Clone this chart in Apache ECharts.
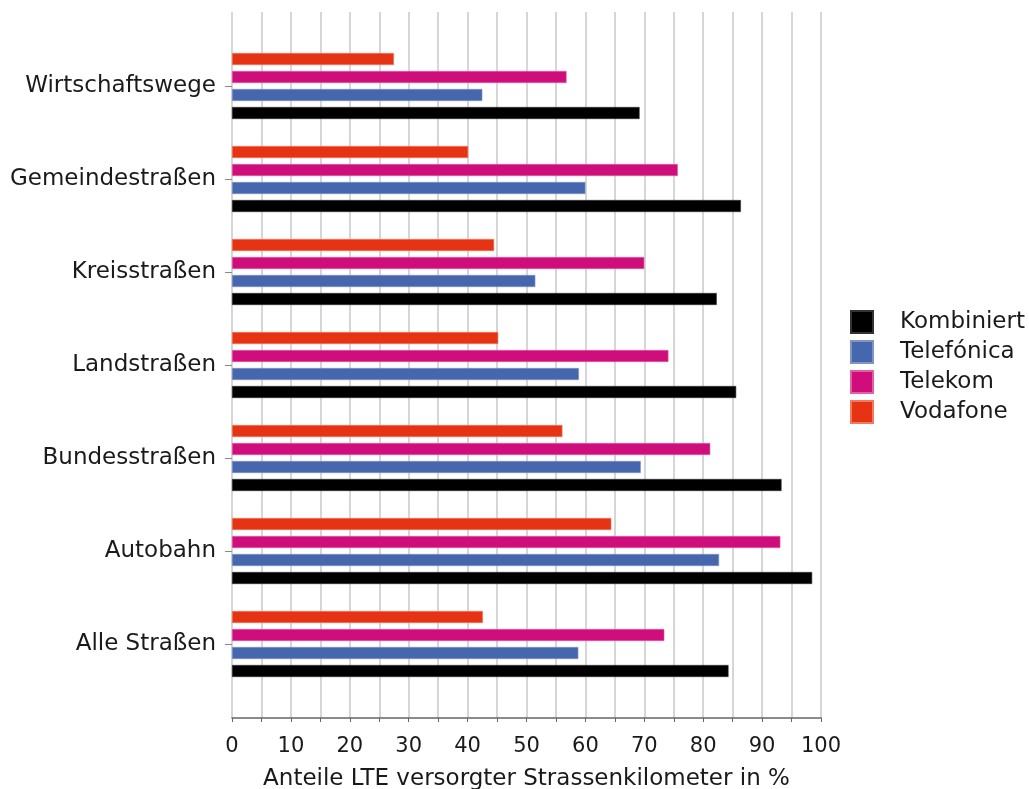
<!DOCTYPE html>
<html>
<head>
<meta charset="utf-8">
<script src="https://cdn.jsdelivr.net/npm/echarts@6/dist/echarts.min.js"></script>
<style>
html,body{margin:0;padding:0;background:#fff;}
#chart{width:1029px;height:789px;}
</style>
</head>
<body>
<div id="chart"></div>
<script>
// Categories, top to bottom
const categories = ['Wirtschaftswege','Gemeindestraßen','Kreisstraßen','Landstraßen','Bundesstraßen','Autobahn','Alle Straßen'];
const kombiniert = [69.2, 86.4, 82.3, 85.6, 93.3, 98.5, 84.3];
const telefonica = [42.5, 60.0, 51.5, 58.9, 69.4, 82.7, 58.8];
const telekom    = [56.8, 75.7, 70.0, 74.1, 81.2, 93.1, 73.4];
const vodafone   = [27.5, 40.1, 44.5, 45.2, 56.1, 64.4, 42.6];
const legendNames = ['Kombiniert','Telefónica','Telekom','Vodafone'];
const axisTitle = 'Anteile LTE versorgter Strassenkilometer in %';

const FONT = 'DejaVu Sans';
const TXT = '#1a1a1a';
const colors = {Kombiniert:'#000000', 'Telefónica':'#4667ad', Telekom:'#cf0e7b', Vodafone:'#e63313'};
const borders = {Kombiniert:'#333333', 'Telefónica':'#7e93c6', Telekom:'#e060a4', Vodafone:'#f07a60'};

function mk(name, data){
  return {
    name, type:'bar', data, xAxisIndex:1, yAxisIndex:1,
    barWidth:12, barGap:'50%',
    itemStyle:{color:colors[name], borderColor:borders[name], borderWidth:0.6},
    emphasis:{disabled:true}
  };
}

const chart = echarts.init(document.getElementById('chart'), null, {renderer:'canvas'});
chart.setOption({
  animation:false,
  textStyle:{fontFamily:FONT},
  grid:[
    {left:232, width:589, top:12, height:706, outerBoundsMode:'none', containLabel:false},
    {left:232, width:589, top:39.5, height:651, outerBoundsMode:'none', containLabel:false}
  ],
  legend:{
    orient:'vertical', left:845, top:305,
    data:legendNames, icon:'rect', itemWidth:22, itemHeight:22, itemGap:6,
    textStyle:{fontFamily:FONT, fontSize:23, color:TXT, padding:[0,0,0,22]},
    selectedMode:false
  },
  xAxis:[
    {gridIndex:0, type:'value', min:0, max:100, interval:5,
     axisLine:{show:true, lineStyle:{color:'#666', width:1.5}},
     axisTick:{show:true, length:4, lineStyle:{color:'#666'}},
     splitLine:{show:true, lineStyle:{color:'#c8c8c8', width:1.5}},
     axisLabel:{fontFamily:FONT, fontSize:21, color:TXT, margin:18,
       formatter:v => (v % 10 === 0 ? String(v) : '')},
     name:axisTitle, nameLocation:'middle', nameGap:50,
     nameTextStyle:{fontFamily:FONT, fontSize:23, color:TXT}
    },
    {gridIndex:1, type:'value', min:0, max:100, show:false}
  ],
  yAxis:[
    {gridIndex:0, type:'category', data:categories, show:false},
    {gridIndex:1, type:'category', data:categories, inverse:true,
     axisLine:{show:false},
     axisTick:{show:true, alignWithLabel:true, length:7, lineStyle:{color:'#888'}},
     axisLabel:{fontFamily:FONT, fontSize:23, color:TXT, margin:16}
    }
  ],
  series:[
    mk('Vodafone', vodafone),
    mk('Telekom', telekom),
    mk('Telefónica', telefonica),
    mk('Kombiniert', kombiniert)
  ]
});
</script>
</body>
</html>
